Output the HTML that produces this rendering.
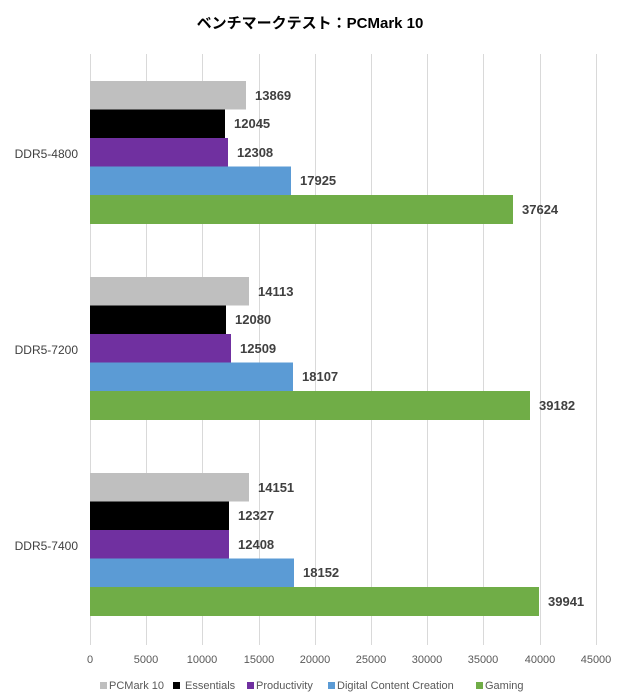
<!DOCTYPE html>
<html><head><meta charset="utf-8"><style>
body{margin:0;background:#fff;}
svg{display:block;font-family:"Liberation Sans","Noto Sans CJK JP",sans-serif;}
</style></head><body>
<svg width="620" height="700" viewBox="0 0 620 700">
<rect width="620" height="700" fill="#fff"/>
<text x="310" y="28" text-anchor="middle" font-size="15" font-weight="bold" fill="#000">ベンチマークテスト：PCMark 10</text>
<g stroke="#d9d9d9" stroke-width="1">
<line x1="90.5" y1="54" x2="90.5" y2="645"/>
<line x1="146.5" y1="54" x2="146.5" y2="645"/>
<line x1="202.5" y1="54" x2="202.5" y2="645"/>
<line x1="259.5" y1="54" x2="259.5" y2="645"/>
<line x1="315.5" y1="54" x2="315.5" y2="645"/>
<line x1="371.5" y1="54" x2="371.5" y2="645"/>
<line x1="427.5" y1="54" x2="427.5" y2="645"/>
<line x1="483.5" y1="54" x2="483.5" y2="645"/>
<line x1="540.5" y1="54" x2="540.5" y2="645"/>
<line x1="596.5" y1="54" x2="596.5" y2="645"/>
</g>
<g font-size="11" fill="#595959" text-anchor="middle">
<text x="90" y="663">0</text><text x="146" y="663">5000</text><text x="202" y="663">10000</text>
<text x="259" y="663">15000</text><text x="315" y="663">20000</text><text x="371" y="663">25000</text>
<text x="427" y="663">30000</text><text x="483" y="663">35000</text><text x="540" y="663">40000</text><text x="596" y="663">45000</text>
</g>
<g font-size="12" fill="#404040" text-anchor="end">
<text x="78" y="158">DDR5-4800</text>
<text x="78" y="354">DDR5-7200</text>
<text x="78" y="550">DDR5-7400</text>
</g>
<g id="bars">
<rect x="90" y="81" width="156" height="28.5" fill="#bfbfbf"/>
<rect x="90" y="109.5" width="135" height="28.5" fill="#000"/>
<rect x="90" y="138" width="138" height="28.5" fill="#7030a0"/>
<rect x="90" y="166.5" width="201" height="28.5" fill="#5b9bd5"/>
<rect x="90" y="195" width="423" height="29" fill="#70ad47"/>

<rect x="90" y="277" width="159" height="28.5" fill="#bfbfbf"/>
<rect x="90" y="305.5" width="136" height="28.5" fill="#000"/>
<rect x="90" y="334" width="141" height="28.5" fill="#7030a0"/>
<rect x="90" y="362.5" width="203" height="28.5" fill="#5b9bd5"/>
<rect x="90" y="391" width="440" height="29" fill="#70ad47"/>

<rect x="90" y="473" width="159" height="28.5" fill="#bfbfbf"/>
<rect x="90" y="501.5" width="139" height="28.5" fill="#000"/>
<rect x="90" y="530" width="139" height="28.5" fill="#7030a0"/>
<rect x="90" y="558.5" width="204" height="28.5" fill="#5b9bd5"/>
<rect x="90" y="587" width="449" height="29" fill="#70ad47"/>
</g>
<g font-size="13" font-weight="bold" fill="#404040">
<text x="255" y="100">13869</text>
<text x="234" y="128">12045</text>
<text x="237" y="157">12308</text>
<text x="300" y="185">17925</text>
<text x="522" y="214">37624</text>

<text x="258" y="296">14113</text>
<text x="235" y="324">12080</text>
<text x="240" y="353">12509</text>
<text x="302" y="381">18107</text>
<text x="539" y="410">39182</text>

<text x="258" y="492">14151</text>
<text x="238" y="520">12327</text>
<text x="238" y="549">12408</text>
<text x="303" y="577">18152</text>
<text x="548" y="606">39941</text>
</g>
<g font-size="11" fill="#595959">
<rect x="100" y="682" width="7" height="7" fill="#bfbfbf"/><text x="109" y="689">PCMark 10</text>
<rect x="173" y="682" width="7" height="7" fill="#000"/><text x="185" y="689">Essentials</text>
<rect x="247" y="682" width="7" height="7" fill="#7030a0"/><text x="256" y="689">Productivity</text>
<rect x="328" y="682" width="7" height="7" fill="#5b9bd5"/><text x="337" y="689">Digital Content Creation</text>
<rect x="476" y="682" width="7" height="7" fill="#70ad47"/><text x="485" y="689">Gaming</text>
</g>
</svg>
</body></html>
